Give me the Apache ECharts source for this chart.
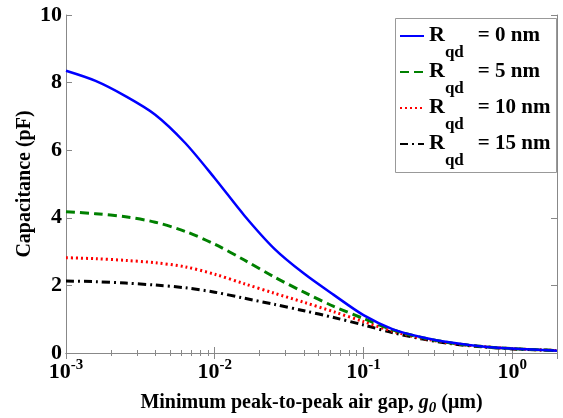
<!DOCTYPE html>
<html>
<head>
<meta charset="utf-8">
<script src="https://cdn.jsdelivr.net/npm/echarts@6/dist/echarts.min.js"></script>
<style>
    html, body { margin: 0; padding: 0; background: #fff; }
    #chart { width: 563px; height: 418px; }
</style>
</head>
<body>
<div id="chart"></div>
<script>
// gap values (um), 0.2 decade steps, and capacitance (pF)
const gaps = [0.001, 0.00158, 0.00251, 0.00398, 0.00631, 0.01, 0.0158, 0.0251, 0.0398, 0.0631, 0.1, 0.158, 0.251, 0.398, 0.631, 1, 1.585, 2];
const cap0 = [8.35, 8.05, 7.6, 7.05, 6.22, 5.17, 4.07, 3.09, 2.35, 1.72, 1.12, 0.7, 0.46, 0.3, 0.19, 0.13, 0.09, 0.07];
const cap5 = [4.18, 4.12, 4.03, 3.87, 3.6, 3.22, 2.75, 2.25, 1.8, 1.38, 1.02, 0.68, 0.45, 0.29, 0.19, 0.13, 0.09, 0.07];
const cap10 = [2.82, 2.79, 2.74, 2.67, 2.55, 2.33, 2.05, 1.77, 1.5, 1.22, 0.93, 0.64, 0.43, 0.28, 0.19, 0.13, 0.09, 0.07];
const cap15 = [2.13, 2.11, 2.07, 2.01, 1.93, 1.8, 1.62, 1.44, 1.25, 1.05, 0.83, 0.6, 0.41, 0.27, 0.18, 0.12, 0.09, 0.07];
const seriesNames = ['0', '5', '10', '15'];
const yTicks = [0, 2, 4, 6, 8, 10];

const font = '"Liberation Serif", "Times New Roman", serif';

function pairs(ys) {
    return gaps.map((g, i) => [g, ys[i]]);
}

// 10^n labels with superscript
function expLabel(v) {
    const e = Math.round(Math.log10(v));
    if (Math.abs(Math.log10(v) - e) > 1e-6) return '';
    return '{b|10}{sup|' + e + '}';
}

const chart = echarts.init(document.getElementById('chart'));

const lineStyles = [
    { color: '#0000ff', width: 2.5, type: 'solid' },
    { color: '#008000', width: 3, type: [9, 5] },
    { color: '#ff0000', width: 3, type: [2, 3] },
    { color: '#000000', width: 3, type: [8, 4, 2, 4] }
];
const datasets = [cap0, cap5, cap10, cap15];

const option = {
    backgroundColor: '#fff',
    animation: false,
    grid: {
        left: 66,
        right: 6,
        top: 15,
        bottom: 65,
        containLabel: false,
        outerBoundsMode: 'none'
    },
    // legend frame
    graphic: [{
        type: 'rect',
        left: 395,
        top: 18,
        shape: { width: 161, height: 154 },
        style: { fill: '#fff', stroke: '#999', lineWidth: 1 },
        z: 20
    }],
    legend: {
        orient: 'vertical',
        left: 399,
        top: 24,
        padding: 0,
        itemGap: -1,
        itemWidth: 24,
        itemHeight: 12,
        z: 30,
        data: seriesNames.map(n => 'R' + n),
        itemStyle: { opacity: 0 },
        formatter: name => '{r|R}{sub|qd}{eq|= ' + name.slice(1) + ' nm}',
        textStyle: {
            fontFamily: font,
            fontWeight: 'bold',
            color: '#000',
            rich: {
                r: { fontFamily: font, fontWeight: 'bold', fontSize: 22, color: '#000', lineHeight: 24, verticalAlign: 'top' },
                sub: { fontFamily: font, fontWeight: 'bold', fontSize: 17, color: '#000', lineHeight: 20, padding: [20, 0, 0, 0], verticalAlign: 'top' },
                eq: { fontFamily: font, fontWeight: 'bold', fontSize: 21, color: '#000', lineHeight: 24, padding: [1, 0, 0, 14], verticalAlign: 'top' }
            }
        }
    },
    xAxis: [{
        type: 'log',
        logBase: 10,
        min: 0.001,
        max: 2,
        name: '{t|Minimum peak-to-peak air gap, }{i|g}{s|0}{t| (μm)}',
        nameLocation: 'middle',
        nameGap: 36,
        nameTextStyle: {
            rich: {
                t: { fontFamily: font, fontWeight: 'bold', fontSize: 20, color: '#000' },
                i: { fontFamily: font, fontWeight: 'bold', fontStyle: 'italic', fontSize: 20, color: '#000' },
                s: { fontFamily: font, fontWeight: 'bold', fontStyle: 'italic', fontSize: 15, color: '#000', padding: [12, 0, 0, 0] }
            }
        },
        axisLine: { lineStyle: { color: '#888', width: 1 } },
        axisTick: { inside: true, length: 6, lineStyle: { color: '#888' } },
        minorTick: { show: true, splitNumber: 9, length: 3, lineStyle: { color: '#888' } },
        splitLine: { show: false },
        axisLabel: {
            margin: 5,
            formatter: expLabel,
            showMaxLabel: false,
            rich: {
                b: { fontFamily: font, fontWeight: 'bold', fontSize: 22, color: '#000' },
                sup: { fontFamily: font, fontWeight: 'bold', fontSize: 15, color: '#000', padding: [0, 0, 14, 0] }
            }
        }
    }, {
        type: 'log',
        logBase: 10,
        min: 0.001,
        max: 2,
        position: 'top',
        axisLine: { show: true, lineStyle: { color: '#888', width: 1 } },
        axisTick: { inside: true, length: 6, lineStyle: { color: '#888' } },
        minorTick: { show: true, splitNumber: 9, length: 3, lineStyle: { color: '#888' } },
        axisLabel: { show: false },
        splitLine: { show: false }
    }],
    yAxis: [{
        type: 'value',
        min: 0,
        max: 10,
        interval: 2,
        name: 'Capacitance (pF)',
        nameLocation: 'middle',
        nameGap: 31,
        nameMoveOverlap: false,
        nameTextStyle: { fontFamily: font, fontWeight: 'bold', fontSize: 20, color: '#000' },
        axisLine: { show: true, lineStyle: { color: '#888', width: 1 } },
        axisTick: { inside: true, length: 6, lineStyle: { color: '#888' } },
        splitLine: { show: false },
        axisLabel: {
            margin: 4,
            fontFamily: font,
            fontWeight: 'bold',
            fontSize: 22,
            color: '#000',
            formatter: v => yTicks.includes(v) ? String(v) : ''
        }
    }, {
        type: 'value',
        min: 0,
        max: 10,
        interval: 2,
        position: 'right',
        axisLine: { show: true, lineStyle: { color: '#888', width: 1 } },
        axisTick: { inside: true, length: 6, lineStyle: { color: '#888' } },
        axisLabel: { show: false },
        splitLine: { show: false }
    }],
    series: datasets.map((d, i) => ({
        name: 'R' + seriesNames[i],
        type: 'line',
        data: pairs(d),
        smooth: 0.3,
        symbol: 'none',
        lineStyle: lineStyles[i],
        itemStyle: { color: lineStyles[i].color },
        z: 10 - i
    }))
};

chart.setOption(option);
</script>
</body>
</html>
